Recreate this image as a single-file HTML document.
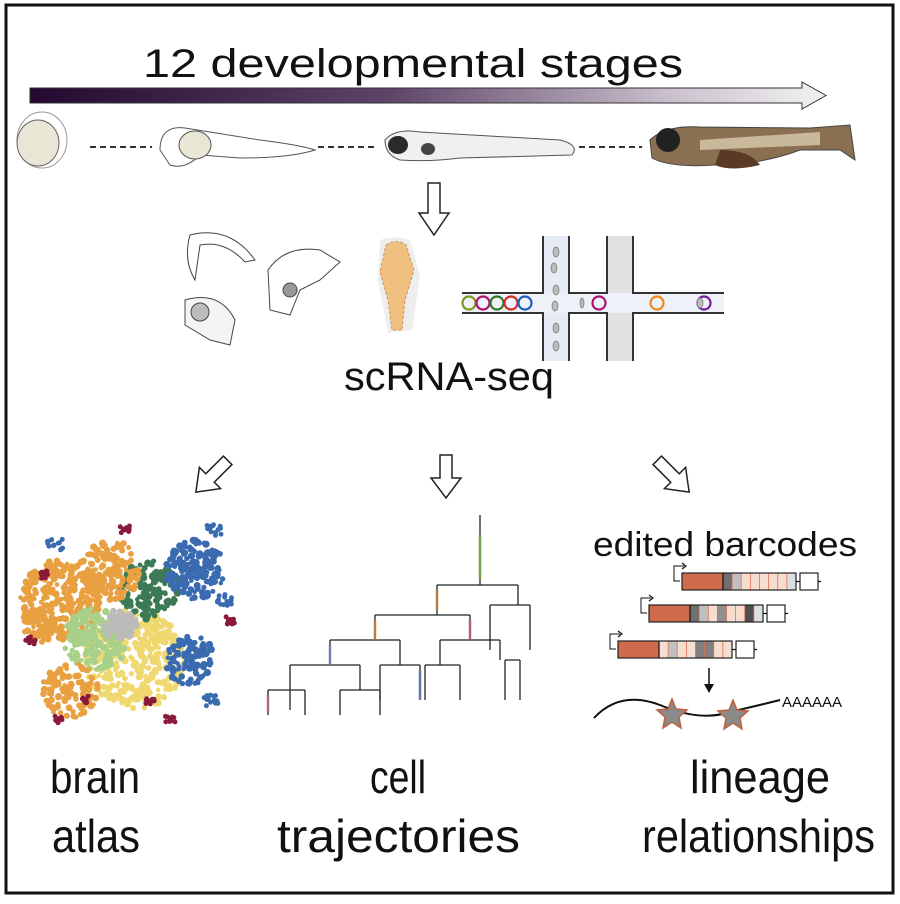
<!DOCTYPE html>
<html><head><meta charset="utf-8"><style>
html,body{margin:0;padding:0;background:#fff;}
body{width:900px;height:899px;overflow:hidden;font-family:"Liberation Sans",sans-serif;}
</style></head><body>
<svg id="s" width="900" height="899" viewBox="0 0 900 899" xmlns="http://www.w3.org/2000/svg" font-family="Liberation Sans, sans-serif">
<defs>
<linearGradient id="g" x1="0" x2="1" y1="0" y2="0">
<stop offset="0" stop-color="#24082f"/><stop offset="0.45" stop-color="#5e4468"/><stop offset="0.8" stop-color="#c9bfcc"/><stop offset="1" stop-color="#f2f2f2"/></linearGradient>
</defs>
<rect x="6" y="5" width="887" height="888" fill="#fff" stroke="#111" stroke-width="3"/>
<text x="143" y="77" font-size="40" textLength="540" lengthAdjust="spacingAndGlyphs" fill="#111">12 developmental stages</text>
<path d="M30 88 H802 V82 L826 95.5 L802 109 V103 H30 Z" fill="url(#g)" stroke="#333" stroke-width="1"/>
<!-- embryos -->
<ellipse cx="42" cy="140" rx="25" ry="28" fill="#fff" stroke="#999"/>
<ellipse cx="38" cy="143" rx="21" ry="23" fill="#e9e6d6" stroke="#666"/>
<line x1="90" y1="147" x2="152" y2="147" stroke="#333" stroke-width="2" stroke-dasharray="6,4"/>
<path d="M160 150 Q160 125 185 128 L260 140 Q300 145 315 150 Q290 158 240 158 L200 155 Q185 170 170 165 Z" fill="#fff" stroke="#555"/>
<ellipse cx="195" cy="145" rx="16" ry="14" fill="#e9e6d6" stroke="#555"/>
<line x1="318" y1="147" x2="375" y2="147" stroke="#333" stroke-width="2" stroke-dasharray="6,4"/>
<path d="M385 140 Q395 128 420 132 L560 140 Q580 145 572 155 L460 158 Q430 162 400 160 Q385 155 385 140 Z" fill="#f0f0f0" stroke="#555"/>
<ellipse cx="398" cy="145" rx="10" ry="9" fill="#2a2a2a"/>
<ellipse cx="428" cy="149" rx="7" ry="6" fill="#444"/>
<line x1="579" y1="147" x2="642" y2="147" stroke="#333" stroke-width="2" stroke-dasharray="6,4"/>
<path d="M650 140 Q665 125 700 127 L810 128 L850 125 L855 160 L840 150 L800 150 Q760 165 715 165 Q670 168 652 158 Z" fill="#8a7050" stroke="#444"/>
<path d="M700 140 L820 132 L820 145 L700 150 Z" fill="#c9b89a"/>
<ellipse cx="668" cy="140" rx="12" ry="12" fill="#222"/>
<path d="M720 150 Q750 150 760 165 Q730 172 715 165 Z" fill="#5a3a25"/>
<!-- down arrow -->
<path d="M428 183 H440 V213 H449 L434 235 L419 213 H428 Z" fill="#fff" stroke="#222" stroke-width="1.5"/>
<!-- dissections -->
<path d="M190 235 Q230 225 255 260 L245 262 Q225 240 200 245 L195 280 Q183 260 190 235 Z" fill="#fff" stroke="#444"/>
<path d="M185 300 Q220 290 235 320 L230 345 L210 340 L185 325 Z" fill="#f4f4f4" stroke="#444"/>
<circle cx="200" cy="312" r="9" fill="#bbb" stroke="#444"/>
<path d="M268 270 Q285 245 320 250 L340 262 L320 280 L300 290 L290 315 L270 310 Z" fill="#fff" stroke="#444"/>
<circle cx="290" cy="290" r="7" fill="#999" stroke="#444"/>
<path d="M380 240 Q396 235 410 240 L420 275 L412 330 L388 333 L378 280 Z" fill="#eee"/>
<path d="M386 245 Q396 238 406 245 L414 270 L405 300 L402 330 L392 330 L388 300 L380 272 Z" fill="#f0c080" stroke="#c8955a" stroke-dasharray="3,2"/>
<!-- microfluidic -->
<rect x="543" y="236" width="26" height="125" fill="#e6ebf5"/>
<rect x="607" y="236" width="26" height="125" fill="#e2e2e2"/>
<rect x="462" y="293" width="262" height="20" fill="#eef1f7"/>
<path d="M462 293 H543 V236 M569 236 V293 H607 V236 M633 236 V293 H724 M462 313 H543 V361 M569 361 V313 H607 V361 M633 361 V313 H724" fill="none" stroke="#333" stroke-width="2"/>
<g fill="none" stroke-width="2.2">
<circle cx="469" cy="303" r="6.5" stroke="#7a9a1a"/><circle cx="483" cy="303" r="6.5" stroke="#b0106e"/><circle cx="497" cy="303" r="6.5" stroke="#2f7a22"/><circle cx="511" cy="303" r="6.5" stroke="#d42a2a"/><circle cx="525" cy="303" r="6.5" stroke="#1f5dc0"/><circle cx="599" cy="303" r="6.5" stroke="#b0106e"/><circle cx="657" cy="303" r="6.5" stroke="#ef8a1a"/><circle cx="704" cy="303" r="6.5" stroke="#7a1aa0"/></g>
<g fill="#bbb" stroke="#777" stroke-width="0.7"><ellipse cx="556" cy="252" rx="3" ry="5"/><ellipse cx="554" cy="268" rx="3" ry="5"/><ellipse cx="556" cy="290" rx="3" ry="5"/><ellipse cx="555" cy="306" rx="3" ry="5"/><ellipse cx="556" cy="328" rx="3" ry="5"/><ellipse cx="556" cy="346" rx="3" ry="5"/><ellipse cx="582" cy="303" rx="2" ry="5"/><ellipse cx="700" cy="303" rx="3" ry="5"/></g>
<text x="344" y="390" font-size="40" textLength="210" lengthAdjust="spacingAndGlyphs" fill="#111">scRNA-seq</text>
<!-- three hollow arrows -->
<path d="M440 455 H452 V478 H461 L446 498 L431 478 H440 Z" fill="#fff" stroke="#222" stroke-width="1.5"/>
<g transform="translate(210,478) rotate(45)"><path d="M-6 -25 H6 V0 H15 L0 20 L-15 0 H-6 Z" fill="#fff" stroke="#222" stroke-width="1.5"/></g>
<g transform="translate(675,478) rotate(-45)"><path d="M-6 -25 H6 V0 H15 L0 20 L-15 0 H-6 Z" fill="#fff" stroke="#222" stroke-width="1.5"/></g>
<g id="tsne"></g>
<!-- tree -->
<g stroke="#222" stroke-width="1.3" fill="none">
<line x1="480" y1="515" x2="480" y2="585"/>
<path d="M437 585 H518 M437 585 V615 M518 585 V605"/>
<path d="M375 615 H470 M375 615 V640 M470 615 V640"/>
<path d="M330 640 H400 M330 640 V665 M400 640 V665 M440 640 H500 M440 640 V665 M500 640 V660"/>
<path d="M290 665 H360 M290 665 V710 M360 665 V690 M380 665 H420 M380 665 V700 M420 665 V700 M425 665 H460 M425 665 V700 M460 665 V700"/>
<path d="M268 690 H305 M268 690 V715 M305 690 V715 M340 690 H380 M340 690 V715 M380 690 V715 M490 605 H530 M490 605 V650 M530 605 V650 M505 660 H520 M505 660 V700 M520 660 V700"/>
</g>
<g stroke-width="3" opacity="0.55">
<line x1="480" y1="535" x2="480" y2="580" stroke="#7cbf3a"/><line x1="437" y1="590" x2="437" y2="610" stroke="#e09030"/><line x1="375" y1="620" x2="375" y2="640" stroke="#e09030"/><line x1="470" y1="620" x2="470" y2="640" stroke="#d06090"/><line x1="330" y1="645" x2="330" y2="665" stroke="#8090d0"/><line x1="268" y1="695" x2="268" y2="712" stroke="#e07080"/><line x1="420" y1="670" x2="420" y2="700" stroke="#6080c0"/></g>
<!-- barcodes -->
<g id="bc"></g>
<path d="M709 668 V686" stroke="#111" stroke-width="1.5"/><path d="M704 684 L709 693 L714 684 Z" fill="#111"/>
<path d="M594 718 Q620 690 660 705 Q700 722 730 712 Q760 705 780 700" fill="none" stroke="#111" stroke-width="2"/>
<g fill="#8a8a8a" stroke="#c06040" stroke-width="1.5">
<polygon points="672,699 676,709 687,710 679,717 681,728 672,722 663,728 665,717 657,710 668,709"/>
<polygon points="733,700 737,710 748,711 740,718 742,729 733,723 724,729 726,718 718,711 729,710"/></g>
<text x="782" y="707" font-size="15" fill="#111">AAAAAA</text>
<text x="593" y="556" font-size="34" textLength="264" lengthAdjust="spacingAndGlyphs" fill="#111">edited barcodes</text>
<g font-size="46" fill="#111" lengthAdjust="spacingAndGlyphs">
<text x="50" y="793" textLength="90" lengthAdjust="spacingAndGlyphs">brain</text><text x="52" y="852" textLength="88" lengthAdjust="spacingAndGlyphs">atlas</text>
<text x="370" y="793" textLength="56" lengthAdjust="spacingAndGlyphs">cell</text><text x="277" y="852" textLength="243" lengthAdjust="spacingAndGlyphs">trajectories</text>
<text x="690" y="793" textLength="140" lengthAdjust="spacingAndGlyphs">lineage</text><text x="642" y="852" textLength="233" lengthAdjust="spacingAndGlyphs">relationships</text></g>
</svg>
<script>
var NS="http://www.w3.org/2000/svg";
var seed=7;function r(){seed=(seed*16807)%2147483647;return seed/2147483647;}
var t=document.getElementById("tsne");
function dot(x,y,rr,c){var e=document.createElementNS(NS,"circle");e.setAttribute("cx",x);e.setAttribute("cy",y);e.setAttribute("r",rr);e.setAttribute("fill",c);t.appendChild(e);}
var cl=[[60,600,40,"#e8a040",300],[135,660,50,"#f0d870",360],[95,640,32,"#a8d088",180],[150,590,30,"#3b7a55",140],[195,570,30,"#3a6bb0",170],[190,660,25,"#3a6bb0",90],[110,570,30,"#e8a040",140],[70,690,28,"#e8a040",100],[120,625,16,"#bbbbbb",70],[40,625,18,"#e8a040",50]];
cl.forEach(function(c){for(var i=0;i<c[4];i++){var a=r()*6.283,d=Math.sqrt(r())*c[2];dot(c[0]+Math.cos(a)*d,c[1]+Math.sin(a)*d,2.2+r()*1.5,c[3]);}});
[[45,575],[30,640],[60,720],[85,700],[150,700],[170,720],[230,620],[125,530]].forEach(function(p){for(var i=0;i<10;i++)dot(p[0]+r()*10-5,p[1]+r()*8-4,2.5,"#8a1a3a");});
[[215,530],[225,600],[210,700],[55,545]].forEach(function(p){for(var i=0;i<15;i++)dot(p[0]+r()*16-8,p[1]+r()*12-6,2.5,"#3a6bb0");});
var b=document.getElementById("bc");
function rect(x,y,w,h,f,s){var e=document.createElementNS(NS,"rect");e.setAttribute("x",x);e.setAttribute("y",y);e.setAttribute("width",w);e.setAttribute("height",h);e.setAttribute("fill",f);if(s){e.setAttribute("stroke",s);e.setAttribute("stroke-width","1.2");}b.appendChild(e);}
function path(d){var e=document.createElementNS(NS,"path");e.setAttribute("d",d);e.setAttribute("fill","none");e.setAttribute("stroke","#111");e.setAttribute("stroke-width","1.2");b.appendChild(e);}
var rows=[[682,573,["#707070","#c0c0c0","#f5ddd0","#f5ddd0","#f5ddd0","#f5ddd0","#f5ddd0","#dde0e3"]],[649,605,["#707070","#c0c0c0","#f5ddd0","#909090","#f5ddd0","#f5ddd0","#505050","#dde0e3"]],[618,641,["#f5ddd0","#c0c0c0","#f5ddd0","#f5ddd0","#808080","#808080","#f5ddd0","#f5ddd0"]]];
rows.forEach(function(R){var x=R[0],y=R[1];rect(x,y,41,17,"#d06a4c");var w=(114-41)/8;R[2].forEach(function(c,i){rect(x+41+i*w,y,w,17,c);var e=document.createElementNS(NS,"line");e.setAttribute("x1",x+41+i*w);e.setAttribute("x2",x+41+i*w);e.setAttribute("y1",y);e.setAttribute("y2",y+17);e.setAttribute("stroke","#e07050");e.setAttribute("stroke-width","0.8");b.appendChild(e);});rect(x,y,114,17,"none","#222");path("M"+(x+41)+" "+y+"V"+(y+17));rect(x+118,y,18,17,"#fff","#222");path("M"+(x+114)+" "+(y+8.5)+"H"+(x+118)+"M"+(x+136)+" "+(y+8.5)+"H"+(x+139));path("M"+(x-2)+" "+(y+8)+"H"+(x-8)+"V"+(y-7)+"H"+(x+2));b.lastChild.setAttribute("stroke-width","1");path("M"+x+" "+(y-10)+"L"+(x+4)+" "+(y-7)+"L"+x+" "+(y-4));});
</script>
</body></html>
